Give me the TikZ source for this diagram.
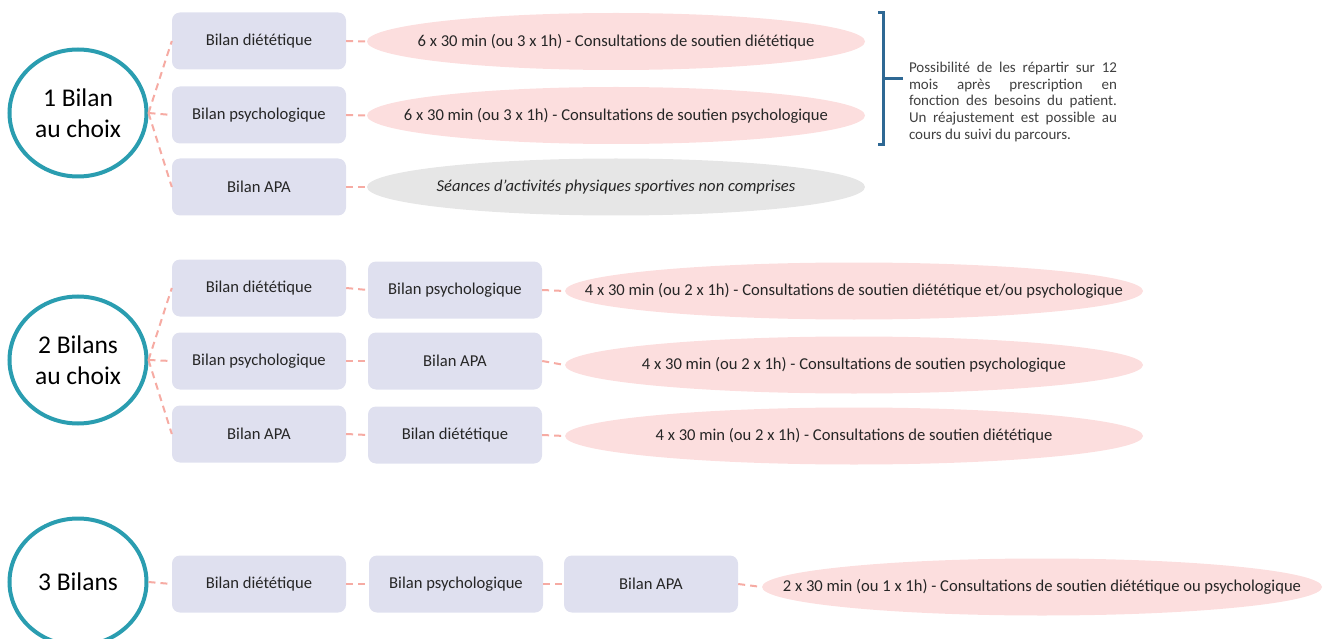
\documentclass[tikz,border=0pt]{standalone}
\usepackage{fontspec}
\setmainfont{Carlito}
\usetikzlibrary{shapes.geometric}

\definecolor{boxfill}{HTML}{DFE0EF}
\definecolor{pinkfill}{HTML}{FCDEDE}
\definecolor{greyfill}{HTML}{E6E6E6}
\definecolor{tealline}{HTML}{2A9DB0}
\definecolor{dashline}{HTML}{F6ABA3}
\definecolor{brackline}{HTML}{2E6894}

\tikzset{
  choice/.style={ellipse, draw=tealline, line width=4pt, fill=white, minimum width=137pt, minimum height=127pt, inner sep=0pt, align=center, font=\fontsize{25.5}{31}\selectfont},
  bilan/.style={rectangle, rounded corners=8pt, fill=boxfill, minimum width=174pt, minimum height=57pt, inner sep=0pt, text=black!85, font=\fontsize{16.6}{19}\selectfont},
  pill/.style={ellipse, fill=pinkfill, minimum width=#1, minimum height=57pt, inner sep=0pt, text=black!85, font=\fontsize{16.6}{19}\selectfont,
    execute at begin node={\hbox to 0pt\bgroup\hss}, execute at end node={\hss\egroup}},
  link/.style={draw=dashline, line width=2pt, dash pattern=on 7pt off 5pt},
}

\begin{document}
\begin{tikzpicture}[x=1pt,y=-1pt]
\useasboundingbox (0,0) rectangle (1328,639);

% 1 bilan
\node[choice] (c1) at (78,113) {1 Bilan\\au choix};
\node[bilan] (b11) at (259,41) {Bilan diététique};
\node[bilan] (b12) at (259,115) {Bilan psychologique};
\node[bilan] (b13) at (259,187) {Bilan APA};
\node[pill=498pt] (e11) at (616,41.5) {6 x 30 min (ou 3 x 1h) - Consultations de soutien diététique};
\node[pill=498pt] (e12) at (616,115.5) {6 x 30 min (ou 3 x 1h) - Consultations de soutien psychologique};
\node[pill=498pt, fill=greyfill, font=\fontsize{16.6}{19}\selectfont\itshape] (e13) at (616,187) {Séances d’activités physiques sportives non comprises};
\foreach \i in {1,2,3} {
  \draw[link] (c1.east) -- (b1\i.west);
  \draw[link] (b1\i.east) -- (e1\i.west);
}

% bracket + note
\coordinate (bt) at (878,13);
\coordinate (bb) at (878,145);
\coordinate (bm) at (883,79);
\coordinate (bn) at (903,79);
\draw[brackline, line width=3pt] (bt) -- ++(5,0) -- ++(0,132) -- (bb);
\draw[brackline, line width=3pt] (bm) -- (bn);
\node[text width=208pt, align=justify, inner sep=0pt, text=black!75, font=\fontsize{15}{16.8}\selectfont] (note) at (1013,102)
  {Possibilité de les répartir sur 12\linebreak mois après prescription en\linebreak fonction des besoins du patient.\linebreak Un réajustement est possible au\linebreak cours du suivi du parcours.};

% 2 bilans
\node[choice] (c2) at (78,360) {2 Bilans\\au choix};
\node[bilan] (b21) at (259,288) {Bilan diététique};
\node[bilan] (b22) at (259,361) {Bilan psychologique};
\node[bilan] (b23) at (259,434) {Bilan APA};
\node[bilan] (d21) at (455,290) {Bilan psychologique};
\node[bilan] (d22) at (455,361) {Bilan APA};
\node[bilan] (d23) at (455,435) {Bilan diététique};
\node[pill=578pt] (e21) at (854,291) {4 x 30 min (ou 2 x 1h) - Consultations de soutien diététique et/ou psychologique};
\node[pill=578pt] (e22) at (854,365) {4 x 30 min (ou 2 x 1h) - Consultations de soutien psychologique};
\node[pill=578pt] (e23) at (854,436) {4 x 30 min (ou 2 x 1h) - Consultations de soutien diététique};
\foreach \i in {1,2,3} {
  \draw[link] (c2.east) -- (b2\i.west);
  \draw[link] (b2\i.east) -- (d2\i.west);
  \draw[link] (d2\i.east) -- (e2\i.west);
}

% 3 bilans
\node[choice] (c3) at (78,582) {3 Bilans};
\node[bilan] (b31) at (259,584) {Bilan diététique};
\node[bilan] (b32) at (456,584) {Bilan psychologique};
\node[bilan] (b33) at (651,584) {Bilan APA};
\node[pill=560pt] (e31) at (1042,587) {2 x 30 min (ou 1 x 1h) - Consultations de soutien diététique ou psychologique};
\draw[link] (c3.east) -- (b31.west);
\draw[link] (b31.east) -- (b32.west);
\draw[link] (b32.east) -- (b33.west);
\draw[link] (b33.east) -- (e31.west);

\end{tikzpicture}
\end{document}
